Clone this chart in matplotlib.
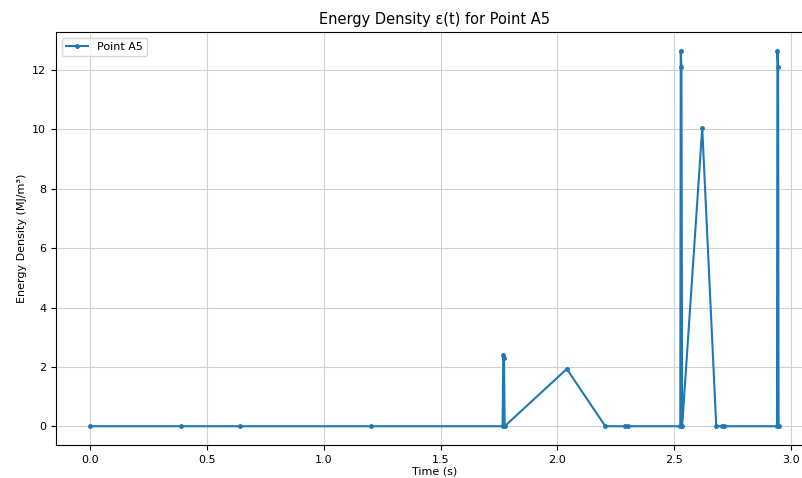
import matplotlib
matplotlib.use('Agg')
import matplotlib.pyplot as plt

# time (s) and energy density (MJ/m^3)
time_s = [0.0, 0.39, 0.64, 1.20, 1.765, 1.768, 1.771, 1.774, 2.04, 2.205,
          2.29, 2.30, 2.526, 2.528, 2.531, 2.534, 2.62, 2.68, 2.705, 2.715,
          2.940, 2.942, 2.945, 2.947]
energy = [0.0, 0.0, 0.0, 0.0, 0.0, 2.4, 2.3, 0.0, 1.93, 0.0,
          0.0, 0.0, 0.0, 12.65, 12.1, 0.0, 10.05, 0.0, 0.0, 0.0,
          0.0, 12.65, 12.1, 0.0]

fig = plt.figure(figsize=(8.03, 4.78), dpi=100)
ax = fig.add_axes([56/803, 33/478, 757/803, 413/478])

ax.plot(time_s, energy, marker='.', markersize=5, linewidth=1.5,
        color='#1f77b4', label='Point A5')

ax.set_title('Energy Density ε(t) for Point A5', fontsize=10.5)
ax.set_xlabel('Time (s)', fontsize=8, labelpad=1)
ax.set_ylabel('Energy Density (MJ/m³)', fontsize=8)
ax.tick_params(labelsize=8)
ax.grid(True, color='#d0d0d0', linewidth=0.8)
ax.legend(loc='upper left', fontsize=8)

fig.savefig('out.png', dpi=100)
